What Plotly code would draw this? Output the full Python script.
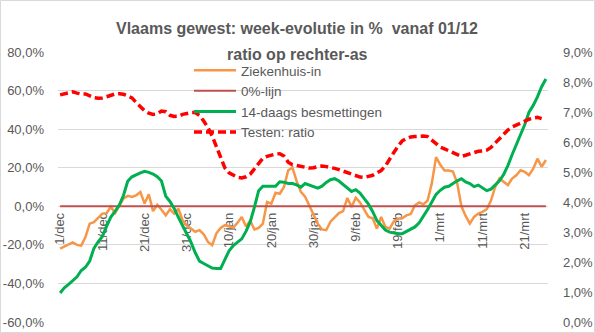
import pandas as pd
import plotly.graph_objects as go

# Daily categories: 1 Dec 2020 .. 26 Mar 2021
dates = pd.date_range("2020-12-01", "2021-03-26", freq="D")

# Week-evolution (%) of hospital admissions - left axis
ziekenhuis_in = [
    -22.0, -21.0, -19.8, -18.7, -20.0, -20.4, -16.0, -9.0, -8.2, -6.0,
    -3.8, -3.6, -0.3, -3.5, 0.0, 4.0, 5.4, 4.8, 5.7, 7.4,
    1.4, 6.2, -2.5, 0.8, -1.8, -4.7, -1.5, -3.8, -1.2, -7.3,
    -10.0, -11.8, -13.2, -12.4, -14.5, -18.5, -20.2, -14.0, -11.2, -9.8,
    -10.5, -11.0, -8.5, -5.5, -10.5, -7.5, -12.0, -11.2, -9.0, 2.2,
    1.4, 7.0, 6.5, 10.0, 18.7, 20.0, 13.0, 7.5, 5.0, 0.5,
    -4.5, -9.0, -12.0, -12.4, -8.0, -6.0, -3.5, -2.5, 4.3, -0.3,
    4.4, 2.0, -1.5, -5.5, -6.2, -11.6, -5.5, -10.7, -11.6, -7.8,
    -6.4, -6.2, -4.7, -4.0, 0.5, 2.0, 1.0, 3.0, 12.0, 25.5,
    21.5, 18.5, 18.5, 18.0, 12.0, 0.0, -5.0, -9.0, -5.5, -3.8,
    -2.9, -1.5, 3.0, 10.0, 14.4, 12.6, 11.0, 14.4, 16.1, 18.7,
    17.8, 16.1, 19.5, 24.7, 20.5, 24.0,
]

# Reference line at 0 %
nul_lijn = [0.0] * len(dates)

# Week-evolution (%) of 14-day infections - left axis
besmettingen_14d = [
    -45.0, -42.3, -40.5, -38.7, -36.6, -33.3, -31.6, -28.4, -21.8, -18.4,
    -15.6, -10.3, -5.6, -2.7, 0.6, 5.6, 13.0, 15.3, 16.4, 17.3,
    18.1, 17.6, 16.7, 15.3, 13.1, 5.3, 2.5, -1.1, -5.7, -10.0,
    -14.1, -18.7, -24.1, -28.4, -29.7, -30.9, -32.0, -32.3, -32.3, -27.6,
    -23.1, -20.4, -18.6, -16.9, -13.0, -8.1, -0.4, 8.1, 10.4, 10.4,
    10.4, 10.4, 12.7, 12.5, 11.8, 11.8, 11.1, 9.9, 11.8, 11.0,
    10.0, 9.4, 10.4, 12.4, 13.8, 14.3, 13.1, 11.4, 9.6, 7.7,
    8.6, 6.9, 4.0, 1.1, -2.8, -7.4, -9.8, -12.3, -13.4, -14.0,
    -14.2, -14.2, -12.9, -11.6, -10.7, -8.6, -5.3, -1.7, 2.2, 6.2,
    8.3, 9.9, 10.4, 11.9, 13.2, 14.3, 12.6, 11.8, 10.2, 11.0,
    9.5, 8.1, 8.9, 10.9, 13.2, 16.5, 21.1, 26.7, 32.1, 36.6,
    42.4, 48.8, 52.3, 56.7, 62.0, 66.0,
]

# Positivity ratio of tests (%) - right axis
testen_ratio = [
    7.57, 7.60, 7.64, 7.67, 7.63, 7.60, 7.60, 7.53, 7.48, 7.46,
    7.47, 7.51, 7.56, 7.60, 7.61, 7.59, 7.54, 7.47, 7.32, 7.16,
    7.04, 6.96, 6.92, 6.94, 7.03, 7.01, 6.89, 6.85, 6.86, 6.92,
    6.95, 6.98, 6.98, 6.88, 6.70, 6.48, 6.20, 5.84, 5.42, 5.14,
    4.97, 4.89, 4.82, 4.80, 4.84, 4.93, 5.11, 5.29, 5.46, 5.52,
    5.57, 5.60, 5.61, 5.53, 5.33, 5.24, 5.22, 5.20, 5.16, 5.13,
    5.14, 5.18, 5.20, 5.18, 5.16, 5.12, 5.08, 5.03, 4.97, 4.91,
    4.85, 4.83, 4.82, 4.85, 4.89, 4.97, 5.05, 5.20, 5.40, 5.65,
    5.86, 6.04, 6.12, 6.17, 6.18, 6.19, 6.20, 6.18, 6.07, 5.94,
    5.83, 5.77, 5.70, 5.63, 5.58, 5.52, 5.56, 5.61, 5.65, 5.69,
    5.70, 5.73, 5.82, 5.97, 6.11, 6.25, 6.40, 6.50, 6.57, 6.63,
    6.70, 6.76, 6.80, 6.82, 6.78,
]

# Axis ticks
x_tick_dates = ["2020-12-01", "2020-12-11", "2020-12-21", "2020-12-31",
                "2021-01-10", "2021-01-20", "2021-01-30", "2021-02-09",
                "2021-02-19", "2021-03-01", "2021-03-11", "2021-03-21"]
x_tick_labels = ["1/dec", "11/dec", "21/dec", "31/dec", "10/jan", "20/jan",
                 "30/jan", "9/feb", "19/feb", "1/mrt", "11/mrt", "21/mrt"]
left_ticks = [-60, -40, -20, 0, 20, 40, 60, 80]
right_ticks = [0, 1, 2, 3, 4, 5, 6, 7, 8, 9]


def pct_label(v):
    return f"{v:.1f}%".replace(".", ",")


W, H = 595, 333
ML, MR, MT, MB = 58, 47, 52, 11
PW, PH = W - ML - MR, H - MT - MB
LEFT_RANGE = [-60, 80]
RIGHT_RANGE = [0, 9]

GREY_TXT = "#595959"
FONT = "Liberation Sans, Arial, sans-serif"

fig = go.Figure()

fig.add_trace(go.Scatter(
    x=dates, y=ziekenhuis_in, name="Ziekenhuis-in", legendgroup="a",
    mode="lines", line=dict(color="#F79646", width=2.5),
))
fig.add_trace(go.Scatter(
    x=dates, y=nul_lijn, name="0%-lijn", legendgroup="b",
    mode="lines", line=dict(color="#C0504D", width=2),
))
fig.add_trace(go.Scatter(
    x=dates, y=besmettingen_14d, name="14-daags besmettingen", legendgroup="c",
    mode="lines", line=dict(color="#00B050", width=3),
))
fig.add_trace(go.Scatter(
    x=dates[:len(testen_ratio)], y=testen_ratio, name="Testen: ratio",
    legendgroup="d", yaxis="y2",
    mode="lines", line=dict(color="#FF0000", width=3.5, dash="8px,4px"),
))

x_start = dates[0] - pd.Timedelta(hours=12)
x_end = dates[-1] + pd.Timedelta(hours=12)
zero_pos = (0 - LEFT_RANGE[0]) / (LEFT_RANGE[1] - LEFT_RANGE[0])

fig.update_layout(
    width=W, height=H,
    margin=dict(l=ML, r=MR, t=MT, b=MB, pad=0, autoexpand=False),
    paper_bgcolor="white", plot_bgcolor="white",
    font=dict(family=FONT, color=GREY_TXT, size=13),
    showlegend=True,
    legend=dict(
        x=(189 - ML) / PW, y=(H - MB - 55) / PH, xanchor="left", yanchor="top",
        bgcolor="rgba(0,0,0,0)", borderwidth=0,
        font=dict(size=13.5, color=GREY_TXT, family=FONT),
        itemwidth=42, tracegroupgap=0,
    ),
    xaxis=dict(
        type="date", range=[x_start, x_end],
        tickvals=x_tick_dates, ticktext=x_tick_labels, tickangle=-90,
        anchor="free", position=zero_pos, showgrid=False, zeroline=False,
        showline=False, ticks="", ticklabelstandoff=3, layer="below traces",
        automargin=False,
        tickfont=dict(size=13, color=GREY_TXT, family=FONT),
    ),
    yaxis=dict(
        range=LEFT_RANGE, tickvals=left_ticks,
        ticktext=[pct_label(v) for v in left_ticks],
        showgrid=True, gridcolor="#D9D9D9", gridwidth=1, zeroline=False,
        showline=False, ticks="", ticklabelstandoff=13, automargin=False,
        tickfont=dict(size=13, color=GREY_TXT, family=FONT),
    ),
    yaxis2=dict(
        range=RIGHT_RANGE, overlaying="y", side="right", tickvals=right_ticks,
        ticktext=[pct_label(v) for v in right_ticks],
        showgrid=False, zeroline=False, showline=False, ticks="",
        ticklabelstandoff=14, automargin=False,
        tickfont=dict(size=13, color=GREY_TXT, family=FONT),
    ),
    annotations=[
        dict(text="<b>Vlaams gewest: week-evolutie in %  vanaf 01/12</b>",
             xref="paper", yref="paper", x=(297 - ML) / PW,
             y=(H - MB - 28) / PH, xanchor="center", yanchor="middle",
             showarrow=False, font=dict(size=16, color=GREY_TXT, family=FONT)),
        dict(text="<b>ratio op rechter-as</b>",
             xref="paper", yref="paper", x=(297 - ML) / PW,
             y=(H - MB - 55) / PH, xanchor="center", yanchor="middle",
             showarrow=False, font=dict(size=16, color=GREY_TXT, family=FONT)),
    ],
    shapes=[dict(
        type="rect", xref="paper", yref="paper", layer="below",
        x0=(0.5 - ML) / PW, x1=(W - 0.5 - ML) / PW,
        y0=(0.5 - MB) / PH, y1=(H - 0.5 - MB) / PH,
        line=dict(color="#D9D9D9", width=1), fillcolor="rgba(0,0,0,0)",
    )],
)

fig.write_html("out.html")
